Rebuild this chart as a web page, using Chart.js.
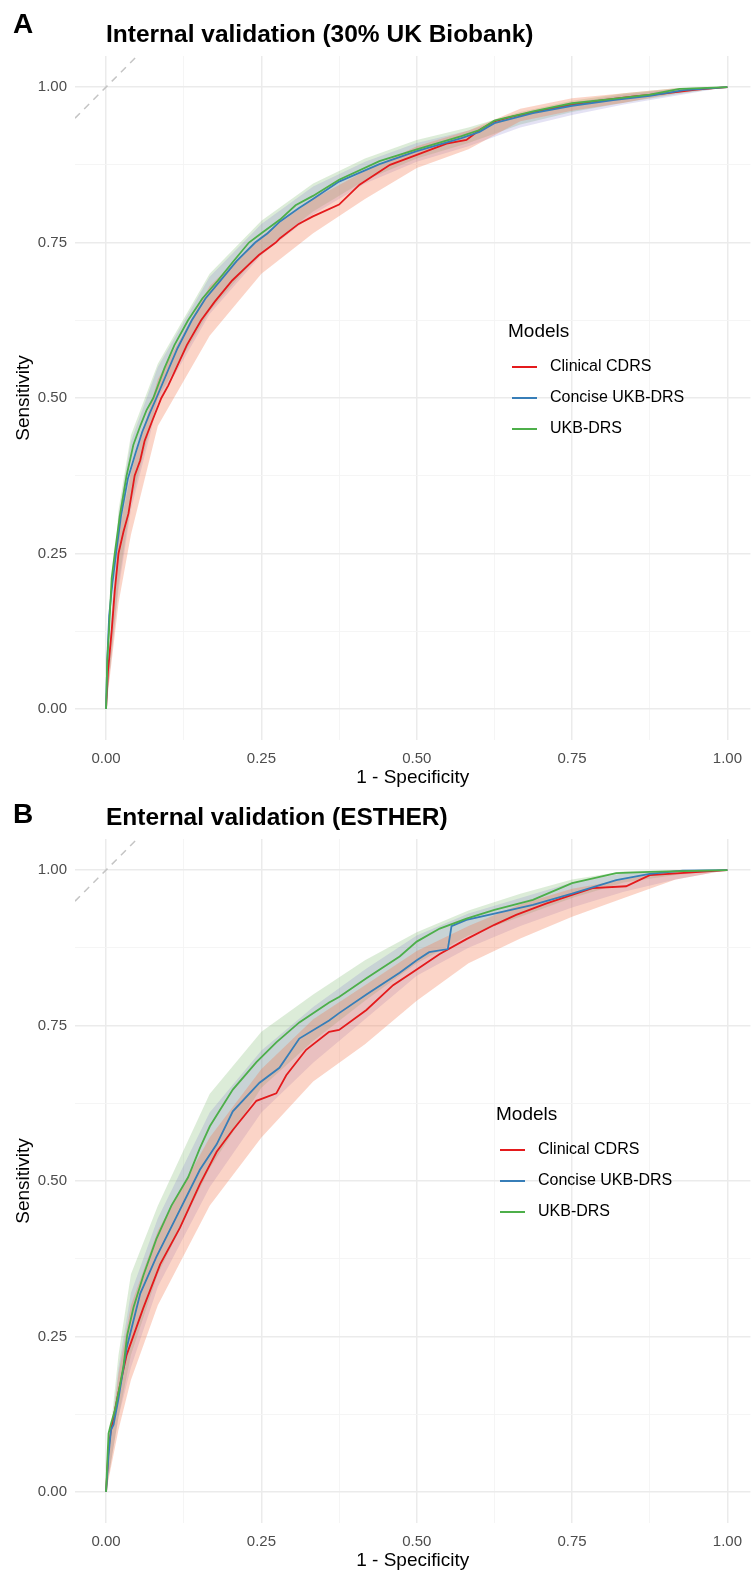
<!DOCTYPE html>
<html>
<head>
<meta charset="utf-8">
<script src="https://cdn.jsdelivr.net/npm/chart.js"></script>
<style>
    body { margin: 0; background: #fff; width: 752px; height: 1572px; position: relative; overflow: hidden; }
    canvas { position: absolute; left: 0; }
</style>
</head>
<body>
<canvas id="rocA" width="752" height="789" style="top:0"></canvas>
<canvas id="rocB" width="752" height="789" style="top:783px"></canvas>
<script>
// Datos (1 - especificidad, sensibilidad)
const MODEL_NAMES = ['Clinical CDRS', 'Concise UKB-DRS', 'UKB-DRS'];
const AXIS_TICKS = [0, 0.125, 0.25, 0.375, 0.5, 0.625, 0.75, 0.875, 1];

// Panel A - Internal validation
const clinA_x = [0, 0.003, 0.009, 0.014, 0.020, 0.028, 0.036, 0.046, 0.055, 0.062, 0.075, 0.089, 0.100, 0.113, 0.130, 0.153, 0.175, 0.203, 0.225, 0.246, 0.273, 0.280, 0.310, 0.333, 0.375, 0.408, 0.457, 0.500, 0.548, 0.580, 0.601, 0.625, 0.655, 0.700, 0.750, 0.800, 0.850, 0.900, 0.950, 1];
const clinA_y = [0, 0.06, 0.125, 0.19, 0.25, 0.285, 0.314, 0.375, 0.40, 0.431, 0.465, 0.50, 0.52, 0.548, 0.585, 0.625, 0.655, 0.689, 0.71, 0.73, 0.75, 0.757, 0.78, 0.792, 0.811, 0.843, 0.875, 0.891, 0.909, 0.915, 0.931, 0.945, 0.953, 0.962, 0.972, 0.979, 0.985, 0.99, 0.996, 1];
const concA_x = [0, 0.002, 0.005, 0.010, 0.016, 0.024, 0.035, 0.047, 0.058, 0.070, 0.081, 0.100, 0.115, 0.138, 0.160, 0.185, 0.210, 0.240, 0.260, 0.280, 0.310, 0.333, 0.375, 0.440, 0.500, 0.572, 0.601, 0.625, 0.687, 0.750, 0.816, 0.875, 0.930, 1];
const concA_y = [0, 0.08, 0.15, 0.20, 0.25, 0.31, 0.37, 0.41, 0.445, 0.475, 0.50, 0.545, 0.58, 0.625, 0.66, 0.69, 0.72, 0.75, 0.765, 0.784, 0.805, 0.82, 0.848, 0.876, 0.897, 0.918, 0.928, 0.942, 0.958, 0.970, 0.979, 0.986, 0.995, 1];
const ukbA_x = [0, 0.002, 0.005, 0.009, 0.014, 0.022, 0.033, 0.044, 0.055, 0.065, 0.076, 0.094, 0.110, 0.132, 0.155, 0.180, 0.205, 0.230, 0.250, 0.280, 0.305, 0.333, 0.375, 0.440, 0.500, 0.572, 0.601, 0.625, 0.687, 0.750, 0.816, 0.875, 0.923, 1];
const ukbA_y = [0, 0.08, 0.13, 0.21, 0.25, 0.31, 0.375, 0.425, 0.455, 0.48, 0.50, 0.548, 0.585, 0.625, 0.66, 0.689, 0.72, 0.75, 0.765, 0.787, 0.81, 0.825, 0.851, 0.881, 0.90, 0.921, 0.931, 0.946, 0.961, 0.974, 0.981, 0.988, 0.997, 1];

// Bandas de confianza (mismo eje x para todas)
const ribbon_x = [0, 0.02, 0.04, 0.0833, 0.1667, 0.25, 0.3333, 0.4167, 0.5, 0.5833, 0.6667, 0.75, 0.8333, 0.9167, 1];
const clinA_lo = [0, 0.17, 0.28, 0.455, 0.60, 0.70, 0.765, 0.82, 0.87, 0.90, 0.945, 0.962, 0.975, 0.99, 1];
const clinA_hi = [0.02, 0.28, 0.38, 0.53, 0.68, 0.76, 0.82, 0.865, 0.905, 0.93, 0.965, 0.982, 0.99, 0.998, 1];
const concA_lo = [0, 0.19, 0.32, 0.49, 0.635, 0.73, 0.795, 0.845, 0.88, 0.905, 0.935, 0.955, 0.972, 0.986, 1];
const concA_hi = [0.03, 0.31, 0.43, 0.55, 0.695, 0.78, 0.84, 0.88, 0.91, 0.93, 0.957, 0.975, 0.988, 0.997, 1];
const ukbA_lo = [0, 0.20, 0.33, 0.50, 0.64, 0.735, 0.80, 0.85, 0.885, 0.91, 0.94, 0.96, 0.975, 0.988, 1];
const ukbA_hi = [0.03, 0.32, 0.44, 0.555, 0.70, 0.785, 0.845, 0.885, 0.915, 0.935, 0.96, 0.978, 0.99, 0.998, 1];

// Panel B - External validation (ESTHER)
const clinB_x = [0, 0.004, 0.008, 0.012, 0.020, 0.033, 0.060, 0.087, 0.119, 0.151, 0.178, 0.204, 0.242, 0.274, 0.290, 0.322, 0.359, 0.375, 0.419, 0.462, 0.500, 0.537, 0.580, 0.625, 0.660, 0.708, 0.750, 0.783, 0.837, 0.875, 0.955, 1];
const clinB_y = [0, 0.07, 0.10, 0.12, 0.16, 0.22, 0.296, 0.366, 0.425, 0.495, 0.547, 0.582, 0.629, 0.641, 0.67, 0.711, 0.74, 0.743, 0.775, 0.815, 0.84, 0.865, 0.889, 0.912, 0.928, 0.946, 0.96, 0.971, 0.974, 0.992, 0.997, 1];
const concB_x = [0, 0.004, 0.008, 0.012, 0.020, 0.033, 0.055, 0.081, 0.113, 0.151, 0.178, 0.204, 0.247, 0.279, 0.311, 0.359, 0.375, 0.419, 0.4725, 0.500, 0.520, 0.550, 0.556, 0.580, 0.625, 0.687, 0.750, 0.821, 0.875, 0.928, 1];
const concB_y = [0, 0.06, 0.10, 0.108, 0.15, 0.231, 0.319, 0.378, 0.442, 0.518, 0.559, 0.612, 0.658, 0.682, 0.729, 0.758, 0.77, 0.80, 0.835, 0.855, 0.868, 0.873, 0.91, 0.92, 0.93, 0.944, 0.962, 0.984, 0.994, 0.999, 1];
const ukbB_x = [0, 0.002, 0.004, 0.008, 0.0144, 0.022, 0.028, 0.034, 0.044, 0.060, 0.081, 0.105, 0.132, 0.151, 0.167, 0.204, 0.242, 0.274, 0.311, 0.359, 0.375, 0.419, 0.4725, 0.500, 0.537, 0.580, 0.625, 0.687, 0.750, 0.821, 0.875, 1];
const ukbB_y = [0, 0.05, 0.094, 0.11, 0.132, 0.17, 0.202, 0.252, 0.296, 0.348, 0.407, 0.46, 0.506, 0.553, 0.588, 0.647, 0.691, 0.723, 0.755, 0.787, 0.796, 0.826, 0.861, 0.885, 0.906, 0.922, 0.936, 0.952, 0.979, 0.995, 0.997, 1];

const clinB_lo = [0, 0.10, 0.18, 0.30, 0.46, 0.57, 0.66, 0.72, 0.79, 0.85, 0.89, 0.925, 0.955, 0.985, 1];
const clinB_hi = [0.02, 0.19, 0.30, 0.42, 0.57, 0.68, 0.76, 0.815, 0.87, 0.91, 0.945, 0.97, 0.985, 1, 1];
const concB_lo = [0, 0.12, 0.20, 0.33, 0.49, 0.61, 0.69, 0.76, 0.83, 0.875, 0.91, 0.94, 0.965, 0.985, 1];
const concB_hi = [0.02, 0.20, 0.32, 0.44, 0.61, 0.71, 0.78, 0.84, 0.895, 0.93, 0.955, 0.98, 0.995, 1, 1];
const ukbB_lo = [0, 0.12, 0.22, 0.35, 0.52, 0.65, 0.725, 0.79, 0.85, 0.895, 0.925, 0.955, 0.98, 0.992, 1];
const ukbB_hi = [0.03, 0.22, 0.35, 0.46, 0.64, 0.74, 0.80, 0.855, 0.90, 0.935, 0.962, 0.985, 0.998, 1, 1];

// Colores
const LINE_COLORS = ['#E41A1C', '#377EB8', '#4DAF4A'];
const RIBBON_COLORS = ['rgba(244, 120, 80, 0.32)', 'rgba(120, 110, 200, 0.20)', 'rgba(110, 175, 90, 0.24)'];
const FONT = '"Liberation Sans", Arial, sans-serif';

function toPoints(xs, ys) {
    return xs.map((x, i) => ({ x: x, y: ys[i] }));
}

// Texto del panel: letra, titulo y leyenda
const panelText = {
    id: 'panelText',
    afterDraw(chart, args, opts) {
        const ctx = chart.ctx;
        ctx.save();
        ctx.fillStyle = '#000';
        ctx.textBaseline = 'alphabetic';
        ctx.font = 'bold 28px ' + FONT;
        ctx.fillText(opts.letter, 13, opts.letterY);
        ctx.font = 'bold 24.5px ' + FONT;
        ctx.fillText(opts.title, 106, 42);

        ctx.textBaseline = 'middle';
        ctx.font = '19px ' + FONT;
        ctx.fillText('Models', opts.lx, opts.ly);
        ctx.font = '16px ' + FONT;
        MODEL_NAMES.forEach((name, i) => {
            const y = opts.ly + 35 + i * 31;
            ctx.strokeStyle = LINE_COLORS[i];
            ctx.lineWidth = 2;
            ctx.beginPath();
            ctx.moveTo(opts.lx + 4, y);
            ctx.lineTo(opts.lx + 29, y);
            ctx.stroke();
            ctx.fillStyle = '#000';
            ctx.fillText(name, opts.lx + 42, y);
        });
        ctx.restore();
    }
};

function renderRoc(canvasId, panel) {
    const ctx = document.getElementById(canvasId);
    if (!ctx) return;

    const datasets = [];
    panel.ribbons.forEach((r, i) => {
        datasets.push({
            data: toPoints(ribbon_x, r[0]),
            borderWidth: 0,
            borderColor: 'rgba(0,0,0,0)',
            pointRadius: 0,
            fill: false,
            order: 10,
        });
        datasets.push({
            data: toPoints(ribbon_x, r[1]),
            borderWidth: 0,
            borderColor: 'rgba(0,0,0,0)',
            backgroundColor: RIBBON_COLORS[i],
            pointRadius: 0,
            fill: '-1',
            order: 10,
        });
    });
    datasets.push({
        data: [{ x: -0.05, y: 0.95 }, { x: 0.1, y: 1.1 }],
        borderColor: '#C4C4C4',
        borderWidth: 1.5,
        borderDash: [7, 6],
        pointRadius: 0,
        fill: false,
        order: 5,
    });
    panel.curves.forEach((c, i) => {
        datasets.push({
            label: MODEL_NAMES[i],
            data: toPoints(c[0], c[1]),
            borderColor: LINE_COLORS[i],
            borderWidth: 1.8,
            pointRadius: 0,
            fill: false,
            tension: 0,
            order: 3 - i,
        });
    });

    const gridColor = c => (c.tick && c.tick.value % 0.25 === 0) ? '#EBEBEB' : '#F4F4F4';
    const gridWidth = c => (c.tick && c.tick.value % 0.25 === 0) ? 1.5 : 0.9;
    const tickLabel = v => (v % 0.25 === 0) ? v.toFixed(2) : '';

    new Chart(ctx, {
        type: 'line',
        data: { datasets: datasets },
        plugins: [panelText],
        options: {
            responsive: false,
            animation: false,
            devicePixelRatio: 1,
            layout: { padding: { top: 56, right: 0, bottom: 0, left: 0 } },
            plugins: {
                legend: { display: false },
                tooltip: { enabled: false },
                panelText: panel.text,
            },
            scales: {
                x: {
                    type: 'linear',
                    min: -0.05,
                    max: 1.037,
                    afterBuildTicks: s => { s.ticks = AXIS_TICKS.map(v => ({ value: v })); },
                    afterFit: s => { s.height = 49; },
                    grid: { color: gridColor, lineWidth: gridWidth, drawTicks: false },
                    border: { display: false },
                    ticks: {
                        autoSkip: false,
                        maxRotation: 0,
                        padding: 10,
                        color: '#4D4D4D',
                        font: { family: FONT, size: 15 },
                        callback: tickLabel,
                    },
                    title: {
                        display: true,
                        text: '1 - Specificity',
                        color: '#000',
                        font: { family: FONT, size: 19 },
                        padding: { top: 0, bottom: 0 },
                    },
                },
                y: {
                    type: 'linear',
                    min: -0.05,
                    max: 1.05,
                    afterBuildTicks: s => { s.ticks = AXIS_TICKS.map(v => ({ value: v })); },
                    afterFit: s => { s.width = 75; },
                    grid: { color: gridColor, lineWidth: gridWidth, drawTicks: false },
                    border: { display: false },
                    ticks: {
                        autoSkip: false,
                        padding: 8,
                        color: '#4D4D4D',
                        font: { family: FONT, size: 15 },
                        callback: tickLabel,
                    },
                    title: {
                        display: true,
                        text: 'Sensitivity',
                        color: '#000',
                        font: { family: FONT, size: 19 },
                        padding: { top: 12, bottom: 0 },
                    },
                },
            },
        },
    });
}

renderRoc('rocA', {
    curves: [[clinA_x, clinA_y], [concA_x, concA_y], [ukbA_x, ukbA_y]],
    ribbons: [[clinA_lo, clinA_hi], [concA_lo, concA_hi], [ukbA_lo, ukbA_hi]],
    text: { letter: 'A', letterY: 33, title: 'Internal validation (30% UK Biobank)', lx: 508, ly: 332 },
});

renderRoc('rocB', {
    curves: [[clinB_x, clinB_y], [concB_x, concB_y], [ukbB_x, ukbB_y]],
    ribbons: [[clinB_lo, clinB_hi], [concB_lo, concB_hi], [ukbB_lo, ukbB_hi]],
    text: { letter: 'B', letterY: 40, title: 'Enternal validation (ESTHER)', lx: 496, ly: 332 },
});
</script>
</body>
</html>
